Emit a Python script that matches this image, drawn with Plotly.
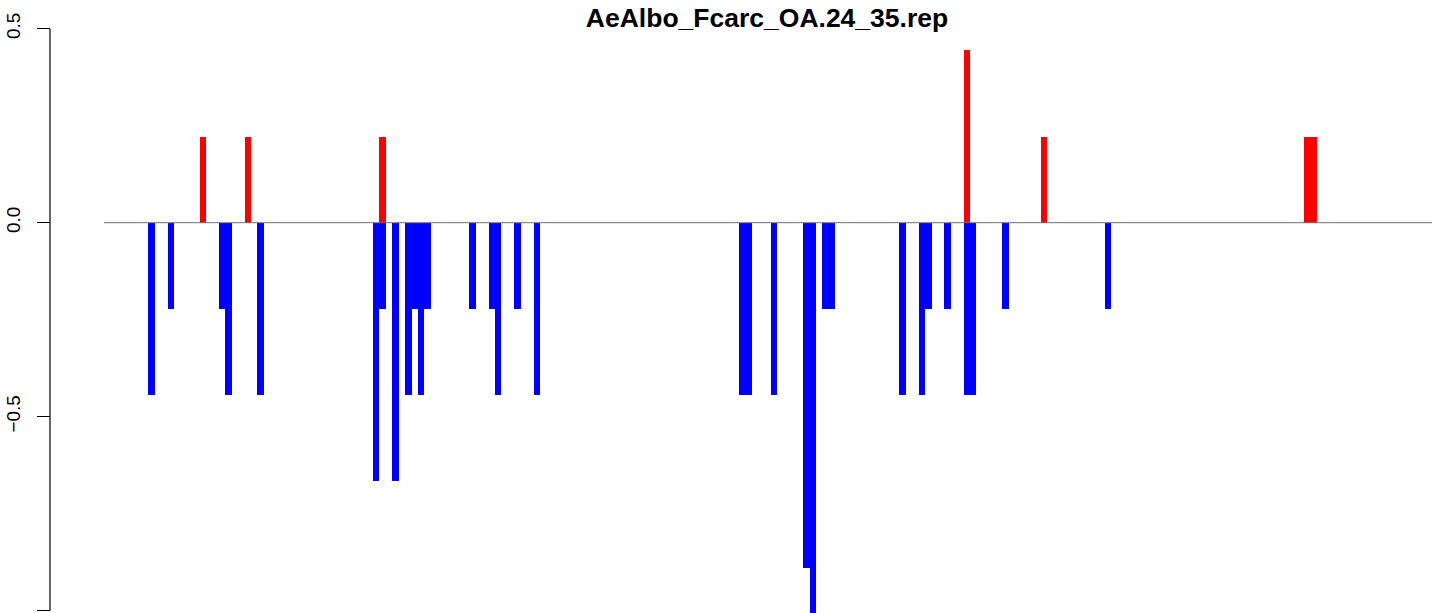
import plotly.graph_objects as go

# ---- data (bar slot index, value) ----
title_text = "AeAlbo_Fcarc_OA.24_35.rep"

red_pos = [8, 15, 36, 127, 139, 180, 181]
red_val = [0.222, 0.222, 0.222, 0.444, 0.222, 0.222, 0.222]

blue_pos = [0, 3, 11, 12, 17,
            35, 36, 38, 40, 41, 42, 43, 50, 53, 54, 57, 60,
            92, 93, 97, 102, 103, 105, 106,
            117, 120, 121, 124, 127, 128, 133, 149]
blue_val = [-0.444, -0.222, -0.222, -0.444, -0.444,
            -0.667, -0.222, -0.667, -0.444, -0.222, -0.444, -0.222, -0.222, -0.222, -0.444, -0.222, -0.444,
            -0.444, -0.444, -0.444, -0.889, -1.111, -0.222, -0.222,
            -0.444, -0.444, -0.222, -0.222, -0.444, -0.444, -0.222, -0.222]

y_tickvals = [-1.0, -0.5, 0.0, 0.5]
y_ticktext = ["\u22121.0", "\u22120.5", "0.0", "0.5"]

W, H = 1444, 613
ML, MR, MB = 50, 12, 0
plot_w = W - ML - MR

fig = go.Figure()
fig.add_trace(go.Bar(x=blue_pos, y=blue_val, marker=dict(color="#0000FF", line=dict(width=0)),
                     width=1.0, showlegend=False))
fig.add_trace(go.Bar(x=red_pos, y=red_val, marker=dict(color="#FF0000", line=dict(width=0)),
                     width=1.0, showlegend=False))

# zero reference line across the plotting region
fig.add_shape(type="line", xref="x domain", yref="y", x0=0, x1=1, y0=0, y1=0,
              line=dict(color="#707070", width=1))
# y axis spine from lowest to highest tick
fig.add_shape(type="line", xref="paper", yref="y", x0=0, x1=0,
              y0=min(y_tickvals), y1=max(y_tickvals),
              line=dict(color="black", width=1.2))

fig.update_layout(
    width=W, height=H,
    margin=dict(l=ML, r=MR, t=0, b=MB, autoexpand=False),
    paper_bgcolor="white", plot_bgcolor="white",
    barmode="overlay", bargap=0,
    title=dict(text="<b>" + title_text + "</b>", x=767 / W, xref="container", xanchor="center",
               y=1 - 18 / H, yref="container", yanchor="middle",
               font=dict(family="Liberation Sans, Arial, sans-serif", size=26.5, color="black")),
    xaxis=dict(domain=[(104 - ML) / plot_w, 1], range=[-7.40, 199.45], visible=False),
    yaxis=dict(range=[-1.006, 0.574], anchor="free", position=0, automargin=False,
               showgrid=False, zeroline=False, showline=False,
               ticks="outside", ticklen=13, tickwidth=1.2, tickcolor="black",
               tickvals=y_tickvals, ticktext=y_ticktext, tickangle=-90,
               ticklabelstandoff=9,
               tickfont=dict(family="Liberation Sans, Arial, sans-serif", size=19, color="black")),
)

fig.write_html("out.html", config={"displayModeBar": False},
               post_script="document.body.style.margin='0';document.body.style.overflow='hidden';")
